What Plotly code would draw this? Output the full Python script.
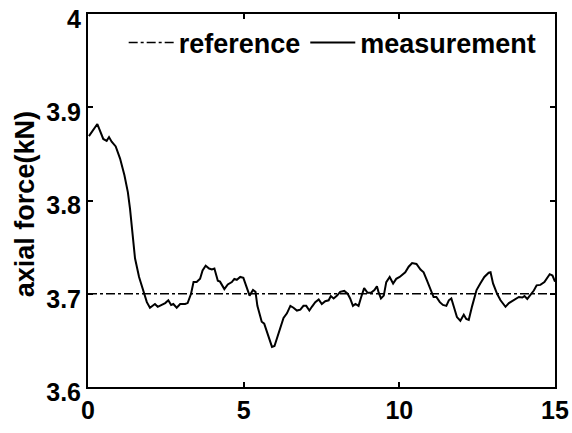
import plotly.graph_objects as go

# measurement curve (time, axial force kN)
t_meas = [0.03, 0.30, 0.49, 0.60, 0.675, 0.76, 0.89, 1.03, 1.17, 1.28, 1.35, 1.43, 1.51, 1.64, 1.78,
          1.89, 1.99, 2.08, 2.15, 2.24, 2.37, 2.48, 2.58, 2.67, 2.74, 2.85, 2.96, 3.12, 3.20, 3.31,
          3.39, 3.49, 3.60, 3.68, 3.78, 3.89, 3.98, 4.06, 4.17, 4.24, 4.38, 4.49, 4.62, 4.70, 4.78,
          4.89, 4.99, 5.08, 5.19, 5.30, 5.38, 5.44, 5.51, 5.58, 5.66, 5.75, 5.83, 5.91, 5.99, 6.09,
          6.17, 6.28, 6.39, 6.50, 6.60, 6.71, 6.82, 6.92, 7.01, 7.11, 7.19, 7.30, 7.41, 7.51, 7.62,
          7.73, 7.80, 7.89, 8.00, 8.10, 8.23, 8.34, 8.42, 8.51, 8.59, 8.69, 8.77, 8.87, 8.98, 9.09,
          9.20, 9.28, 9.33, 9.41, 9.50, 9.58, 9.69, 9.80, 9.90, 10.01, 10.19, 10.30, 10.41, 10.55,
          10.68, 10.78, 10.89, 11.02, 11.10, 11.19, 11.30, 11.40, 11.51, 11.59, 11.67, 11.77, 11.85,
          11.96, 12.07, 12.15, 12.23, 12.34, 12.48, 12.60, 12.73, 12.87, 12.93, 13.01, 13.14, 13.25,
          13.41, 13.52, 13.62, 13.73, 13.84, 13.95, 14.02, 14.11, 14.21, 14.32, 14.41, 14.53, 14.66,
          14.75, 14.83, 14.92, 15.0]
f_meas = [3.869, 3.882, 3.866, 3.864, 3.868, 3.863, 3.858, 3.845, 3.827, 3.809, 3.791, 3.766, 3.738, 3.718, 3.702,
          3.691, 3.685, 3.687, 3.689, 3.686, 3.688, 3.690, 3.693, 3.688, 3.689, 3.685, 3.689, 3.689, 3.690, 3.700,
          3.7125, 3.7125, 3.716, 3.725, 3.730, 3.727, 3.726, 3.727, 3.714, 3.713, 3.705, 3.710, 3.7125, 3.716, 3.715,
          3.718, 3.717, 3.709, 3.698, 3.704, 3.702, 3.687, 3.679, 3.670, 3.668, 3.659, 3.650, 3.643, 3.644, 3.654,
          3.664, 3.674, 3.679, 3.687, 3.685, 3.682, 3.683, 3.687, 3.687, 3.682, 3.686, 3.691, 3.694, 3.689, 3.692,
          3.693, 3.6975, 3.695, 3.698, 3.702, 3.703, 3.700, 3.695, 3.687, 3.689, 3.687, 3.696, 3.706, 3.701, 3.701,
          3.704, 3.708, 3.702, 3.695, 3.698, 3.7125, 3.718, 3.711, 3.716, 3.718, 3.723, 3.729, 3.733, 3.732,
          3.726, 3.723, 3.714, 3.702, 3.6965, 3.6965, 3.691, 3.688, 3.687, 3.693, 3.695, 3.684, 3.675,
          3.671, 3.6775, 3.673, 3.672, 3.687, 3.704, 3.711, 3.718, 3.7225, 3.723, 3.711, 3.700, 3.693,
          3.686, 3.690, 3.692, 3.6945, 3.6965, 3.696, 3.6975, 3.6945, 3.699, 3.7035, 3.709, 3.7095, 3.7125,
          3.717, 3.721, 3.7195, 3.713]

t_ref = [0.0, 15.0]
f_ref = [3.7, 3.7]

x_ticks = [0, 5, 10, 15]
y_ticks = [3.6, 3.7, 3.8, 3.9, 4.0]
y_ticktext = ["3.6", "3.7", "3.8", "3.9", "4"]
y_title = "axial force(kN)"

FONT = "Liberation Sans, Arial, sans-serif"

fig = go.Figure()
fig.add_trace(go.Scatter(x=t_ref, y=f_ref, mode="lines", name="reference",
                         line=dict(color="black", width=1.5, dash="dashdot")))
fig.add_trace(go.Scatter(x=t_meas, y=f_meas, mode="lines", name="measurement",
                         line=dict(color="black", width=2)))

axis_common = dict(showgrid=False, zeroline=False, showline=True, linecolor="black", linewidth=2,
                   mirror="ticks", ticks="inside", ticklen=5, tickwidth=1.5, tickcolor="black",
                   automargin=False, ticklabeloverflow="allow",
                   tickfont=dict(family=FONT, size=25, color="black", weight="bold"))

fig.update_xaxes(range=[0, 15], tickvals=x_ticks, **axis_common)
fig.update_yaxes(range=[3.6, 4.0], tickvals=y_ticks, ticktext=y_ticktext,
                 ticklabelshift=5, **axis_common)

fig.add_annotation(text=y_title, xref="paper", yref="paper", x=-0.135, y=0.49,
                   xanchor="center", yanchor="middle", textangle=-90, showarrow=False,
                   font=dict(family=FONT, size=27, color="black", weight="bold"))

fig.update_layout(
    width=572, height=433,
    margin=dict(l=88, r=17, t=14, b=46),
    plot_bgcolor="white", paper_bgcolor="white",
    showlegend=True,
    legend=dict(orientation="h", x=0.0764, y=0.988, xanchor="left", yanchor="top",
                bgcolor="rgba(0,0,0,0)", borderwidth=0, itemwidth=45, tracegroupgap=0,
                font=dict(family=FONT, size=27, color="black", weight="bold")),
)

# remove the default page margin so the 572x433 figure fills the window exactly
fig.write_html("out.html", config={"displayModeBar": False},
               post_script="document.body.style.margin='0';")
